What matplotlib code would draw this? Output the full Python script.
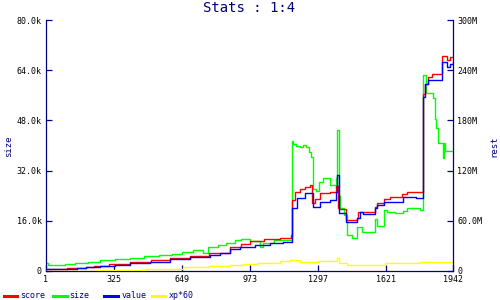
import matplotlib
matplotlib.use("Agg")
import matplotlib.pyplot as plt
from matplotlib.lines import Line2D
from matplotlib.ticker import FixedLocator

# ---------------- data ----------------
size_x = [1, 12, 60, 90, 140, 200, 260, 330, 400, 470, 540, 600, 650, 700, 750, 775,
          820, 860, 900, 930, 973, 1021, 1035, 1090, 1172, 1180, 1195, 1210, 1225, 1240,
          1255, 1265, 1272, 1290, 1302, 1320, 1355, 1385, 1390, 1397, 1405, 1420, 1436,
          1459, 1483, 1510, 1569, 1580, 1612, 1625, 1664, 1703, 1722, 1784, 1798, 1815,
          1846, 1855, 1862, 1872, 1893, 1898, 1903, 1942]
size_v = [2400, 1800, 2000, 2300, 2600, 3000, 3400, 3800, 4200, 4800, 5200, 5500, 6200,
          6600, 5800, 7600, 8400, 9000, 9800, 10300, 9700, 7700, 8800, 9900, 41500, 40500,
          40000, 39500, 40300, 39400, 38000, 36300, 26000, 25500, 28500, 29500, 27500,
          29500, 45000, 24000, 20000, 17800, 11500, 10400, 14100, 12500, 16500, 14300,
          19400, 18900, 18600, 19200, 20200, 19400, 62500, 56600, 55000, 48600, 45500,
          40700, 35900, 40800, 38300, 38300]

score_x = [1, 100, 190, 230, 300, 400, 500, 590, 690, 780, 880, 930, 973, 1040, 1116,
           1170, 1173, 1188, 1212, 1235, 1259, 1271, 1283, 1307, 1355, 1383, 1393, 1397,
           1431, 1483, 1488, 1512, 1569, 1579, 1612, 1641, 1700, 1722, 1770, 1798, 1808,
           1822, 1841, 1888, 1912, 1927, 1942]
score_v = [2.0, 3.2, 4.5, 6.0, 8.0, 10.4, 13.0, 15.5, 18.0, 22.0, 28.3, 32.0, 36.0,
           38.0, 40.0, 43.0, 85.0, 95.0, 97.6, 100.8, 102.8, 81.0, 86.0, 93.0, 95.0,
           102.0, 75.0, 74.0, 61.0, 63.0, 70.0, 71.0, 77.0, 81.0, 86.0, 89.0, 92.0,
           95.0, 94.0, 212.0, 224.0, 232.0, 236.0, 257.0, 252.0, 256.0, 256.0]

value_x = [1, 80, 150, 190, 260, 330, 400, 497, 590, 687, 783, 830, 878, 926, 997,
           1069, 1130, 1173, 1197, 1235, 1274, 1307, 1355, 1383, 1390, 1397, 1431, 1483,
           1497, 1512, 1569, 1579, 1612, 1703, 1765, 1798, 1808, 1822, 1888, 1912, 1927,
           1942]
value_v = [1.8, 2.4, 3.6, 4.8, 6.0, 7.0, 9.0, 11.0, 14.0, 16.3, 19.0, 22.0, 26.0, 29.0,
           31.0, 33.0, 35.0, 75.0, 87.0, 93.0, 76.0, 83.0, 85.0, 95.0, 115.0, 69.0, 58.0,
           63.0, 71.0, 68.0, 75.0, 79.0, 82.0, 89.0, 87.0, 208.0, 224.0, 228.0, 250.0,
           244.0, 248.0, 250.0]

xp_x = [1, 240, 480, 654, 780, 880, 940, 1005, 1116, 1164, 1212, 1297, 1388, 1400,
        1436, 1617, 1784, 1942]
xp_v = [0.3, 1.4, 2.6, 4.2, 5.8, 7.6, 8.4, 10.0, 11.6, 12.8, 11.0, 12.3, 16.0, 9.2,
        7.6, 9.2, 11.0, 11.0]

x_ticks = [1, 325, 649, 973, 1297, 1621, 1942]
left_ticks = [0, 16000, 32000, 48000, 64000, 80000]
left_labels = ["0", "16.0k", "32.0k", "48.0k", "64.0k", "80.0k"]
right_ticks = [0, 60, 120, 180, 240, 300]
right_labels = ["0", "60.0M", "120M", "180M", "240M", "300M"]

# ---------------- style ----------------
NAVY = "#000080"
FONT = "DejaVu Sans Mono"
plt.rcParams["font.family"] = FONT

fig = plt.figure(figsize=(5, 3), dpi=100)
ax1 = fig.add_axes([46 / 500, 29 / 300, 407 / 500, 251 / 300])
ax2 = ax1.twinx()

ax1.step(size_x, size_v, where="post", color="#00ff00", lw=1.0)
ax2.step(score_x, score_v, where="post", color="#ff0000", lw=1.0)
ax2.step(value_x, value_v, where="post", color="#0000ff", lw=1.0)
ax2.step(xp_x, xp_v, where="post", color="#ffff00", lw=1.0)

ax1.set_xlim(1, 1942)
ax1.set_ylim(0, 80000)
ax2.set_ylim(0, 300)

ax1.xaxis.set_major_locator(FixedLocator(x_ticks))
ax1.set_xticklabels([str(t) for t in x_ticks])
ax1.yaxis.set_major_locator(FixedLocator(left_ticks))
ax1.set_yticklabels(left_labels)
ax2.yaxis.set_major_locator(FixedLocator(right_ticks))
ax2.set_yticklabels(right_labels)

for ax in (ax1, ax2):
    ax.spines["top"].set_visible(False)
    for s in ("left", "right", "bottom"):
        ax.spines[s].set_color(NAVY)
        ax.spines[s].set_linewidth(0.9)
    ax.tick_params(direction="in", length=4, width=0.9, color=NAVY,
                   labelsize=6, labelcolor="black", pad=3)
ax1.spines["right"].set_visible(False)
ax2.spines["left"].set_visible(False)
ax2.spines["bottom"].set_visible(False)

# axis titles placed where the reference shows them
fig.text(8.5 / 500, (300 - 146) / 300, "size", rotation=90, ha="center",
         va="center", color=NAVY, fontsize=6.5)
fig.text(494 / 500, (300 - 146) / 300, "rest", rotation=90, ha="center",
         va="center", color=NAVY, fontsize=6.5)

fig.text(0.498, 0.972, "Stats : 1:4", ha="center", va="center",
         color=NAVY, fontsize=10)

# legend
items = [("score", "#ff0000", 4, 17, 20),
         ("size", "#00ff00", 53, 67, 69),
         ("value", "#0000ff", 104, 118, 122),
         ("xp*60", "#ffff00", 152, 165, 169)]
ly = (300 - 295.5) / 300
for name, col, x0, x1, xt in items:
    fig.add_artist(Line2D([x0 / 500, x1 / 500], [ly, ly], color=col, lw=2.2,
                          transform=fig.transFigure))
    fig.text(xt / 500, ly, name, ha="left", va="center", color=NAVY, fontsize=6)

fig.savefig("out.png", dpi=100)
